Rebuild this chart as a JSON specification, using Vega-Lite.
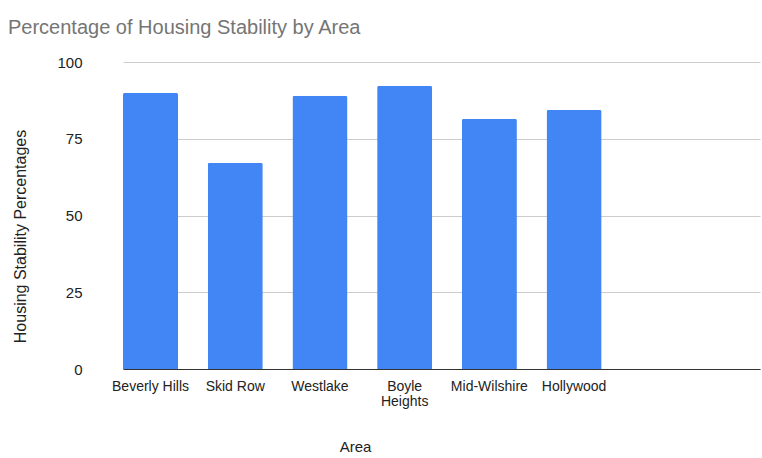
{
  "$schema": "https://vega.github.io/schema/vega-lite/v6.json",
  "width": 669,
  "height": 307,
  "autosize": {"type": "none"},
  "padding": {"left": 91, "top": 62, "right": 2, "bottom": 89},
  "background": "white",
  "config": {"view": {"stroke": null}, "font": "Liberation Sans"},
  "title": {
    "text": "Percentage of Housing Stability by Area",
    "anchor": "start",
    "frame": "group",
    "dx": -83,
    "dy": 21,
    "offset": 22,
    "baseline": "alphabetic",
    "fontSize": 20,
    "font": "Liberation Sans",
    "fontWeight": "normal",
    "color": "#757575"
  },
  "data": {
    "values": [
      {"Area": "Beverly Hills", "Percentage": 90},
      {"Area": "Skid Row", "Percentage": 67.2},
      {"Area": "Westlake", "Percentage": 89},
      {"Area": "Boyle Heights", "Percentage": 92.3},
      {"Area": "Mid-Wilshire", "Percentage": 81.5},
      {"Area": "Hollywood", "Percentage": 84.4}
    ]
  },
  "mark": {"type": "bar", "color": "#4285F4", "cornerRadiusTopLeft": 2, "cornerRadiusTopRight": 2},
  "encoding": {
    "x": {
      "field": "Area",
      "type": "nominal",
      "sort": null,
      "scale": {"paddingInner": 0.35, "paddingOuter": 0.935, "align": 0, "range": [32, 669]},
      "axis": {
        "labelAngle": 0,
        "labelFontSize": 14,
        "labelColor": "#222222",
        "labelPadding": 10,
        "labelLineHeight": 15,
        "labelLimit": 0,
        "labelExpr": "datum.label == 'Boyle Heights' ? ['Boyle', 'Heights'] : datum.label",
        "ticks": false,
        "domainColor": "#333333",
        "grid": false,
        "title": "Area",
        "titleFontSize": 15,
        "titleFontWeight": "normal",
        "titleColor": "#222222",
        "titleX": 264,
        "titleY": 82,
        "titleBaseline": "alphabetic",
        "titleAlign": "center"
      }
    },
    "y": {
      "field": "Percentage",
      "type": "quantitative",
      "scale": {"domain": [0, 100], "nice": false},
      "axis": {
        "values": [0, 25, 50, 75, 100],
        "domain": false,
        "ticks": false,
        "gridColor": "#cccccc",
        "labelPadding": 9,
        "labelFontSize": 15,
        "labelColor": "#222222",
        "title": "Housing Stability Percentages",
        "titleFontSize": 16,
        "titleFontWeight": "normal",
        "titleColor": "#222222",
        "titleAngle": -90,
        "titleX": -71,
        "titleY": 174,
        "titleAlign": "center",
        "titleBaseline": "middle"
      }
    }
  }
}
